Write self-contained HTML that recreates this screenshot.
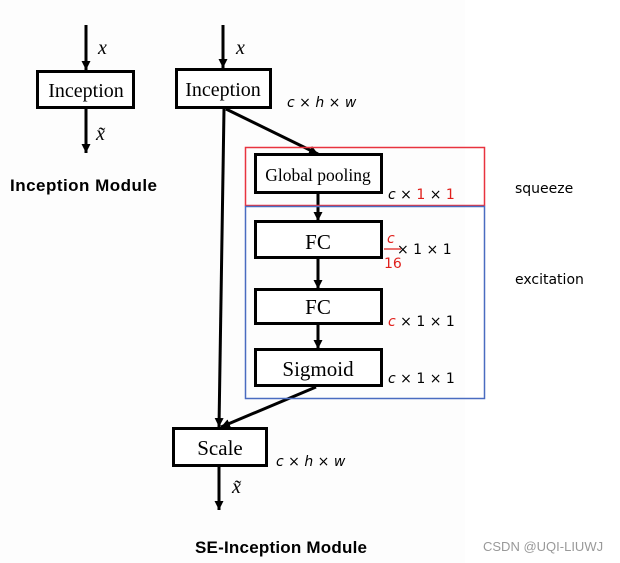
<!DOCTYPE html>
<html><head><meta charset="utf-8"><style>
html,body{margin:0;padding:0;background:#fff;}
svg{display:block}
.s{font-family:"Liberation Serif",serif;fill:#000}
.m{font-family:"Liberation Serif",serif;font-style:italic;fill:#000}
.d{font-family:"DejaVu Sans","Liberation Sans",sans-serif;fill:#000}
</style></head><body>
<svg width="620" height="563" viewBox="0 0 620 563" xmlns="http://www.w3.org/2000/svg">
<defs><marker id="a" markerWidth="9" markerHeight="9" refX="9" refY="4.5" orient="auto" markerUnits="userSpaceOnUse"><path d="M0,0 L9,4.5 L0,9 z" fill="#000"/></marker></defs>
<rect x="0" y="0" width="465" height="563" fill="#fdfdfd"/>
<g stroke="#000" stroke-width="3" fill="none">
<line x1="86" y1="25" x2="86" y2="70" marker-end="url(#a)"/>
<rect x="37.5" y="71.5" width="96" height="36" fill="#fff"/>
<line x1="86" y1="109" x2="86" y2="153" marker-end="url(#a)"/>
<line x1="223" y1="25" x2="223" y2="68" marker-end="url(#a)"/>
<rect x="176.5" y="69.5" width="94" height="38" fill="#fff"/>
<line x1="224" y1="109" x2="219" y2="427" marker-end="url(#a)"/>
<line x1="226" y1="109" x2="318" y2="154" marker-end="url(#a)"/>
<rect x="255.5" y="154.5" width="126" height="38" fill="#fff"/>
<line x1="318" y1="194" x2="318" y2="221" marker-end="url(#a)"/>
<rect x="255.5" y="221.5" width="126" height="36" fill="#fff"/>
<line x1="318" y1="259" x2="318" y2="289" marker-end="url(#a)"/>
<rect x="255.5" y="289.5" width="126" height="34" fill="#fff"/>
<line x1="318" y1="325" x2="318" y2="349" marker-end="url(#a)"/>
<rect x="255.5" y="349.5" width="126" height="36" fill="#fff"/>
<line x1="316" y1="387" x2="221" y2="427" marker-end="url(#a)"/>
<rect x="173.5" y="428.5" width="93" height="37" fill="#fff"/>
<line x1="219" y1="467" x2="219" y2="510" marker-end="url(#a)"/>
</g>
<rect x="245.5" y="147.5" width="239" height="58" fill="none" stroke="#e8333f" stroke-width="1.5"/>
<rect x="245.5" y="206.5" width="239" height="192" fill="none" stroke="#4a6cc0" stroke-width="1.5"/>
<g class="s" font-size="20" text-anchor="middle">
<text x="86" y="97">Inception</text>
<text x="223" y="96">Inception</text>
<text x="318" y="181" font-size="17.5">Global pooling</text>
<text x="318" y="249" font-size="21">FC</text>
<text x="318" y="314" font-size="21">FC</text>
<text x="318" y="376" font-size="21">Sigmoid</text>
<text x="220" y="455" font-size="21">Scale</text>
</g>
<g class="m" font-size="20">
<text x="98" y="54">x</text>
<text x="96" y="140">x̃</text>
<text x="236" y="54">x</text>
<text x="232" y="493">x̃</text>
</g>
<g class="d" font-size="14">
<text x="287" y="107"><tspan font-style="italic">c</tspan> × <tspan font-style="italic">h</tspan> × <tspan font-style="italic">w</tspan></text>
<text x="388" y="199"><tspan font-style="italic">c</tspan> × <tspan fill="#e0201c">1</tspan> × <tspan fill="#e0201c">1</tspan></text>
<text x="397" y="254">× 1 × 1</text>
<text x="387" y="243" fill="#e0201c" font-style="italic">c</text>
<text x="384" y="268" fill="#e0201c">16</text>
<text x="388" y="326"><tspan font-style="italic" fill="#e0201c">c</tspan> × 1 × 1</text>
<text x="388" y="383"><tspan font-style="italic">c</tspan> × 1 × 1</text>
<text x="276" y="466"><tspan font-style="italic">c</tspan> × <tspan font-style="italic">h</tspan> × <tspan font-style="italic">w</tspan></text>
</g>
<line x1="384" y1="249" x2="401" y2="249" stroke="#e0201c" stroke-width="1.3"/>
<g font-family="Liberation Sans, sans-serif" font-weight="bold" font-size="17" fill="#000">
<text x="10" y="191" textLength="147">Inception Module</text>
<text x="195" y="553" textLength="172">SE-Inception Module</text>
</g>
<g font-family="DejaVu Sans, sans-serif" font-size="14" fill="#000">
<text x="515" y="193">squeeze</text>
<text x="515" y="284">excitation</text>
</g>
<text x="483" y="551" font-family="Liberation Sans, sans-serif" font-size="13" fill="#999">CSDN @UQI-LIUWJ</text>
</svg>
</body></html>
